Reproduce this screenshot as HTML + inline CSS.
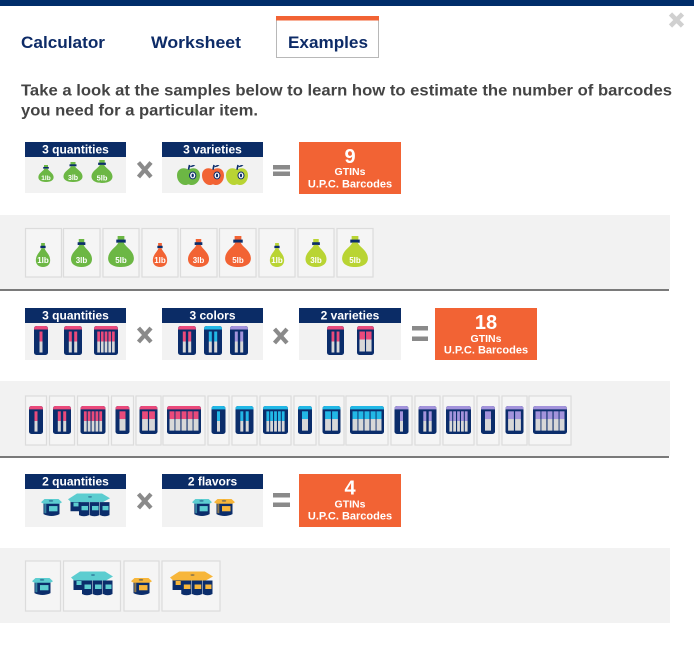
<!DOCTYPE html>
<html>
<head>
<meta charset="utf-8">
<style>
  html,body{margin:0;padding:0;background:#fff;}
  body{width:694px;height:649px;overflow:hidden;position:relative;}
  svg{position:absolute;left:0;top:0;display:block;}
  text{font-family:"Liberation Sans",Arial,sans-serif;font-weight:bold;}
</style>
</head>
<body>
<svg width="694" height="649" viewBox="0 0 694 649" xmlns="http://www.w3.org/2000/svg">
  <defs>
    <symbol id="bag" viewBox="0 0 20 26" preserveAspectRatio="none">
      <rect x="7.5" y="0" width="5" height="4" fill="currentColor"/>
      <rect x="6.5" y="3" width="7" height="2.6" fill="#0b2d6b"/>
      <path d="M8,5.5 C7,9 1,12 0.5,18 C0,23 4,26 10,26 C16,26 20,23 19.5,18 C19,12 13,9 12,5.5 Z" fill="currentColor"/>
    </symbol>
    <symbol id="apple" viewBox="0 0 22 22" preserveAspectRatio="none">
      <path d="M11,6 C7,3 0,4 0,12 C0,18 4,22 8,22 C9.5,22 10,21.3 11,21.3 C12,21.3 12.5,22 14,22 C18,22 22,18 22,12 C22,4 15,3 11,6 Z" fill="currentColor"/>
      <path d="M11,6 L12,1" stroke="#0b2d6b" stroke-width="1.6"/>
      <path d="M12,3 Q15,0 17.5,1.5 Q14.5,4 12,3Z" fill="#0b2d6b"/>
      <ellipse cx="15" cy="12" rx="3" ry="3.6" fill="#fff" stroke="#0b2d6b" stroke-width="1"/>
      <ellipse cx="15" cy="12" rx="1.1" ry="1.9" fill="#0b2d6b"/>
    </symbol>
    <!-- bottle packs -->
    <symbol id="thin1" viewBox="0 0 14 29" preserveAspectRatio="none">
      <rect width="14" height="29" rx="2.5" fill="#0b2d6b"/>
      <path d="M0,3 Q0,0 3,0 H11 Q14,0 14,3 V3.5 H0Z" fill="currentColor"/>
      <rect x="5.5" y="5.5" width="3" height="10" fill="currentColor"/>
      <rect x="5.5" y="15.5" width="3" height="11" fill="#d8d8d8"/>
    </symbol>
    <symbol id="thin2" viewBox="0 0 18 29" preserveAspectRatio="none">
      <rect width="18" height="29" rx="2.5" fill="#0b2d6b"/>
      <path d="M0,3 Q0,0 3,0 H15 Q18,0 18,3 V3.5 H0Z" fill="currentColor"/>
      <rect x="4.8" y="5.5" width="3" height="10" fill="currentColor"/>
      <rect x="4.8" y="15.5" width="3" height="11" fill="#d8d8d8"/>
      <rect x="10.2" y="5.5" width="3" height="10" fill="currentColor"/>
      <rect x="10.2" y="15.5" width="3" height="11" fill="#d8d8d8"/>
    </symbol>
    <symbol id="thin5" viewBox="0 0 25 29" preserveAspectRatio="none">
      <rect width="25" height="29" rx="2.5" fill="#0b2d6b"/>
      <path d="M0,3 Q0,0 3,0 H22 Q25,0 25,3 V3.5 H0Z" fill="currentColor"/>
      <rect x="3.4" y="5.5" width="2.8" height="10" fill="currentColor"/><rect x="3.4" y="15.5" width="2.8" height="11" fill="#d8d8d8"/>
      <rect x="7.2" y="5.5" width="2.8" height="10" fill="currentColor"/><rect x="7.2" y="15.5" width="2.8" height="11" fill="#d8d8d8"/>
      <rect x="11.1" y="5.5" width="2.8" height="10" fill="currentColor"/><rect x="11.1" y="15.5" width="2.8" height="11" fill="#d8d8d8"/>
      <rect x="15" y="5.5" width="2.8" height="10" fill="currentColor"/><rect x="15" y="15.5" width="2.8" height="11" fill="#d8d8d8"/>
      <rect x="18.8" y="5.5" width="2.8" height="10" fill="currentColor"/><rect x="18.8" y="15.5" width="2.8" height="11" fill="#d8d8d8"/>
    </symbol>
    <symbol id="thick1" viewBox="0 0 14 29" preserveAspectRatio="none">
      <rect width="14" height="29" rx="2.5" fill="#0b2d6b"/>
      <path d="M0,3 Q0,0 3,0 H11 Q14,0 14,3 V3.5 H0Z" fill="currentColor"/>
      <rect x="4" y="5.5" width="6" height="8" fill="currentColor"/>
      <rect x="4" y="13.5" width="6" height="12" fill="#d8d8d8"/>
    </symbol>
    <symbol id="thick2" viewBox="0 0 18 29" preserveAspectRatio="none">
      <rect width="18" height="29" rx="2.5" fill="#0b2d6b"/>
      <path d="M0,3 Q0,0 3,0 H15 Q18,0 18,3 V3.5 H0Z" fill="currentColor"/>
      <rect x="2.6" y="5.5" width="5.8" height="8" fill="currentColor"/><rect x="2.6" y="13.5" width="5.8" height="12" fill="#d8d8d8"/>
      <rect x="9.6" y="5.5" width="5.8" height="8" fill="currentColor"/><rect x="9.6" y="13.5" width="5.8" height="12" fill="#d8d8d8"/>
    </symbol>
    <symbol id="thick5" viewBox="0 0 34 29" preserveAspectRatio="none">
      <rect width="34" height="29" rx="2.5" fill="#0b2d6b"/>
      <path d="M0,3 Q0,0 3,0 H31 Q34,0 34,3 V3.5 H0Z" fill="currentColor"/>
      <rect x="2.5" y="5.5" width="5" height="8" fill="currentColor"/><rect x="2.5" y="13.5" width="5" height="12" fill="#d8d8d8"/>
      <rect x="8.4" y="5.5" width="5" height="8" fill="currentColor"/><rect x="8.4" y="13.5" width="5" height="12" fill="#d8d8d8"/>
      <rect x="14.5" y="5.5" width="5" height="8" fill="currentColor"/><rect x="14.5" y="13.5" width="5" height="12" fill="#d8d8d8"/>
      <rect x="20.6" y="5.5" width="5" height="8" fill="currentColor"/><rect x="20.6" y="13.5" width="5" height="12" fill="#d8d8d8"/>
      <rect x="26.5" y="5.5" width="5" height="8" fill="currentColor"/><rect x="26.5" y="13.5" width="5" height="12" fill="#d8d8d8"/>
    </symbol>
    <!-- yogurt cups -->
    <symbol id="cup" viewBox="0 0 21 20" preserveAspectRatio="none">
      <path d="M2.5,5 H18.5 V17 Q10.5,21 2.5,17Z" fill="#0b2d6b"/>
      <rect x="3.3" y="6" width="2" height="10" fill="currentColor" opacity=".55"/>
      <rect x="8" y="8.5" width="8.5" height="5.5" fill="currentColor"/>
      <path d="M0,4.5 L3.5,1 H17.5 L21,4.5 L18.5,6 H2.5Z" fill="currentColor"/>
      <ellipse cx="10" cy="3" rx="2.2" ry="1" fill="#0b2d6b" opacity=".45"/>
    </symbol>
    <symbol id="pack" viewBox="0 0 42 25" preserveAspectRatio="none">
      <rect x="2.5" y="6" width="10" height="13" fill="#0b2d6b"/>
      <rect x="5.5" y="10" width="5" height="4" fill="currentColor"/>
      <path d="M0,6.5 L9,0.5 H34 L42,5.5 L35,9.5 H3Z" fill="currentColor"/>
      <ellipse cx="22" cy="4" rx="2" ry="0.9" fill="#0b2d6b" opacity=".45"/>
      <path d="M11,9.5 H21 V23 Q16,25.5 11,23Z" fill="#0b2d6b"/>
      <path d="M21.5,9.5 H31.5 V23 Q26.5,25.5 21.5,23Z" fill="#0b2d6b"/>
      <path d="M32,9.5 H41.5 V23 Q36.8,25.5 32,23Z" fill="#0b2d6b"/>
      <rect x="13.5" y="13.5" width="6.5" height="4.5" fill="currentColor"/>
      <rect x="24" y="13.5" width="6.5" height="4.5" fill="currentColor"/>
      <rect x="34.5" y="13.5" width="6" height="4.5" fill="currentColor"/>
    </symbol>
  </defs>

  <!-- top bar -->
  <rect x="0" y="0" width="694" height="6" fill="#002d6a"/>
  <!-- close X -->
  <path d="M670.5,14 L682.5,26 M682.5,14 L670.5,26" stroke="#d0d0d0" stroke-width="4.6"/>

  <!-- tabs -->
  <rect x="276.5" y="16.5" width="102" height="41" fill="#fff" stroke="#b8b8b8" stroke-width="1"/>
  <rect x="276" y="16" width="103" height="4.5" fill="#f26334"/>
  <text x="21" y="48" font-size="17" fill="#0d2b67" textLength="84" lengthAdjust="spacingAndGlyphs">Calculator</text>
  <text x="151" y="48" font-size="17" fill="#0d2b67" textLength="90" lengthAdjust="spacingAndGlyphs">Worksheet</text>
  <text x="288" y="48" font-size="17" fill="#0d2b67" textLength="80" lengthAdjust="spacingAndGlyphs">Examples</text>

  <!-- intro -->
  <text x="21" y="95.5" font-size="16" fill="#444" textLength="651" lengthAdjust="spacingAndGlyphs">Take a look at the samples below to learn how to estimate the number of barcodes</text>
  <text x="21" y="115.5" font-size="16" fill="#444" textLength="237" lengthAdjust="spacingAndGlyphs">you need for a particular item.</text>

  <!-- ========== SECTION 1 ========== -->
  <rect x="25" y="142" width="101" height="51" fill="#f2f2f2"/>
  <rect x="25" y="142" width="101" height="15" fill="#0b2c66"/>
  <text x="75.5" y="153.5" font-size="12" fill="#fff" text-anchor="middle">3 quantities</text>
  <use href="#bag" x="38" y="165" width="16" height="17" style="color:#6cb744"/>
  <use href="#bag" x="63" y="162" width="20" height="20" style="color:#6cb744"/>
  <use href="#bag" x="91" y="160" width="22" height="23" style="color:#6cb744"/>
  <text x="46" y="180" font-size="6.5" fill="#fff" text-anchor="middle">1lb</text>
  <text x="73" y="180" font-size="7" fill="#fff" text-anchor="middle">3lb</text>
  <text x="102" y="180.5" font-size="7.5" fill="#fff" text-anchor="middle">5lb</text>

  <path d="M138.5,162.5 L151,177 M151,162.5 L138.5,177" stroke="#8a8a8a" stroke-width="4.2"/>

  <rect x="162" y="142" width="101" height="51" fill="#f2f2f2"/>
  <rect x="162" y="142" width="101" height="15" fill="#0b2c66"/>
  <text x="212.5" y="153.5" font-size="12" fill="#fff" text-anchor="middle">3 varieties</text>
  <use href="#apple" x="177" y="164" width="23" height="21" style="color:#6cb744"/>
  <use href="#apple" x="202" y="164" width="22" height="21" style="color:#f26334"/>
  <use href="#apple" x="226" y="164" width="22" height="21" style="color:#b9d433"/>

  <rect x="273" y="165" width="17" height="4.5" fill="#8a8a8a"/>
  <rect x="273" y="171.5" width="17" height="4.5" fill="#8a8a8a"/>

  <rect x="299" y="142" width="102" height="52" fill="#f26334"/>
  <text x="350" y="163" font-size="20" fill="#fff" text-anchor="middle">9</text>
  <text x="350" y="175" font-size="10.5" fill="#fff" text-anchor="middle">GTINs</text>
  <text x="350" y="187.5" font-size="11" fill="#fff" text-anchor="middle">U.P.C. Barcodes</text>

  <!-- band 1 -->
  <rect x="0" y="215" width="670" height="74" fill="#f2f2f2"/>
  <rect x="0" y="289" width="669" height="2" fill="#7a7a7a"/>
  <g fill="#f5f5f5" stroke="#dcdcdc" stroke-width="1.2">
    <rect x="25.5" y="228.5" width="36" height="48.5"/>
    <rect x="63.5" y="228.5" width="36.5" height="48.5"/>
    <rect x="103" y="228.5" width="36" height="48.5"/>
    <rect x="142" y="228.5" width="36" height="48.5"/>
    <rect x="180.5" y="228.5" width="36.5" height="48.5"/>
    <rect x="219.5" y="228.5" width="36.5" height="48.5"/>
    <rect x="259" y="228.5" width="36" height="48.5"/>
    <rect x="298" y="228.5" width="36" height="48.5"/>
    <rect x="337" y="228.5" width="36" height="48.5"/>
  </g>
  <use href="#bag" x="35.5" y="243" width="15" height="24" style="color:#6cb744"/>
  <use href="#bag" x="70.5" y="239" width="22" height="28" style="color:#6cb744"/>
  <use href="#bag" x="107.5" y="236" width="27" height="31" style="color:#6cb744"/>
  <use href="#bag" x="152.5" y="243" width="15" height="24" style="color:#f26334"/>
  <use href="#bag" x="187.5" y="239" width="22" height="28" style="color:#f26334"/>
  <use href="#bag" x="224.5" y="236" width="27" height="31" style="color:#f26334"/>
  <use href="#bag" x="269.5" y="243" width="15" height="24" style="color:#b9d433"/>
  <use href="#bag" x="305" y="239" width="22" height="28" style="color:#b9d433"/>
  <use href="#bag" x="341.5" y="236" width="27" height="31" style="color:#b9d433"/>
  <g font-size="8" fill="#fff" text-anchor="middle">
    <text x="43" y="263">1lb</text>
    <text x="81.5" y="263">3lb</text>
    <text x="121" y="263">5lb</text>
    <text x="160" y="263">1lb</text>
    <text x="198.5" y="263">3lb</text>
    <text x="238" y="263">5lb</text>
    <text x="277" y="263">1lb</text>
    <text x="316" y="263">3lb</text>
    <text x="355" y="263">5lb</text>
  </g>

  <!-- ========== SECTION 2 ========== -->
  <rect x="25" y="308" width="101" height="52" fill="#f2f2f2"/>
  <rect x="25" y="308" width="101" height="15" fill="#0b2c66"/>
  <text x="75.5" y="319.5" font-size="12" fill="#fff" text-anchor="middle">3 quantities</text>
  <use href="#thin1" x="34" y="326" width="14" height="29" style="color:#ea4a7b"/>
  <use href="#thin2" x="64" y="326" width="18" height="29" style="color:#ea4a7b"/>
  <use href="#thin5" x="94" y="326" width="24" height="29" style="color:#ea4a7b"/>

  <path d="M138.5,328 L151,342 M151,328 L138.5,342" stroke="#8a8a8a" stroke-width="4.2"/>

  <rect x="162" y="308" width="101" height="52" fill="#f2f2f2"/>
  <rect x="162" y="308" width="101" height="15" fill="#0b2c66"/>
  <text x="212.5" y="319.5" font-size="12" fill="#fff" text-anchor="middle">3 colors</text>
  <use href="#thin2" x="178" y="326" width="18" height="29" style="color:#ea4a7b"/>
  <use href="#thin2" x="204" y="326" width="18" height="29" style="color:#22b8e6"/>
  <use href="#thin2" x="230" y="326" width="18" height="29" style="color:#a393db"/>

  <path d="M274.5,329 L287,343 M287,329 L274.5,343" stroke="#8a8a8a" stroke-width="4.2"/>

  <rect x="299" y="308" width="102" height="52" fill="#f2f2f2"/>
  <rect x="299" y="308" width="102" height="15" fill="#0b2c66"/>
  <text x="350" y="319.5" font-size="12" fill="#fff" text-anchor="middle">2 varieties</text>
  <use href="#thin2" x="327" y="326" width="17" height="29" style="color:#ea4a7b"/>
  <use href="#thick2" x="357" y="326" width="17" height="29" style="color:#ea4a7b"/>

  <rect x="412" y="326" width="16" height="4.5" fill="#8a8a8a"/>
  <rect x="412" y="336.5" width="16" height="4.5" fill="#8a8a8a"/>

  <rect x="435" y="308" width="102" height="52" fill="#f26334"/>
  <text x="486" y="329" font-size="20" fill="#fff" text-anchor="middle">18</text>
  <text x="486" y="342" font-size="10.5" fill="#fff" text-anchor="middle">GTINs</text>
  <text x="486" y="353.5" font-size="11" fill="#fff" text-anchor="middle">U.P.C. Barcodes</text>

  <!-- band 2 -->
  <rect x="0" y="381" width="670" height="75" fill="#f2f2f2"/>
  <rect x="0" y="456" width="669" height="2" fill="#7a7a7a"/>
  <g fill="#f5f5f5" stroke="#dcdcdc" stroke-width="1.2">
    <rect x="25.5" y="396" width="21" height="49"/>
    <rect x="49.5" y="396" width="25" height="49"/>
    <rect x="77.5" y="396" width="31" height="49"/>
    <rect x="111.5" y="396" width="22" height="49"/>
    <rect x="136" y="396" width="25" height="49"/>
    <rect x="163" y="396" width="42" height="49"/>

    <rect x="208" y="396" width="21" height="49"/>
    <rect x="232" y="396" width="25" height="49"/>
    <rect x="260" y="396" width="31" height="49"/>
    <rect x="294" y="396" width="22" height="49"/>
    <rect x="319" y="396" width="25" height="49"/>
    <rect x="346" y="396" width="42" height="49"/>

    <rect x="391" y="396" width="21" height="49"/>
    <rect x="415" y="396" width="25" height="49"/>
    <rect x="443" y="396" width="31" height="49"/>
    <rect x="477" y="396" width="22" height="49"/>
    <rect x="502" y="396" width="25" height="49"/>
    <rect x="529" y="396" width="42" height="49"/>
  </g>
  <g style="color:#ea4a7b">
    <use href="#thin1" x="29" y="406" width="14" height="28"/>
    <use href="#thin2" x="53" y="406" width="18" height="28"/>
    <use href="#thin5" x="80.5" y="406" width="25" height="28"/>
    <use href="#thick1" x="115.5" y="406" width="14" height="28"/>
    <use href="#thick2" x="139.5" y="406" width="18" height="28"/>
    <use href="#thick5" x="167" y="406" width="34" height="28"/>
  </g>
  <g style="color:#22b8e6">
    <use href="#thin1" x="211.5" y="406" width="14" height="28"/>
    <use href="#thin2" x="235.5" y="406" width="18" height="28"/>
    <use href="#thin5" x="263" y="406" width="25" height="28"/>
    <use href="#thick1" x="298" y="406" width="14" height="28"/>
    <use href="#thick2" x="322.5" y="406" width="18" height="28"/>
    <use href="#thick5" x="350" y="406" width="34" height="28"/>
  </g>
  <g style="color:#a393db">
    <use href="#thin1" x="394.5" y="406" width="14" height="28"/>
    <use href="#thin2" x="418.5" y="406" width="18" height="28"/>
    <use href="#thin5" x="446" y="406" width="25" height="28"/>
    <use href="#thick1" x="481" y="406" width="14" height="28"/>
    <use href="#thick2" x="505.5" y="406" width="18" height="28"/>
    <use href="#thick5" x="533" y="406" width="34" height="28"/>
  </g>

  <!-- ========== SECTION 3 ========== -->
  <rect x="25" y="474" width="101" height="53" fill="#f2f2f2"/>
  <rect x="25" y="474" width="101" height="15" fill="#0b2c66"/>
  <text x="75.5" y="485.5" font-size="12" fill="#fff" text-anchor="middle">2 quantities</text>
  <use href="#cup" x="41" y="498" width="21" height="19" style="color:#5ccdd0"/>
  <use href="#pack" x="68" y="493" width="42" height="24" style="color:#5ccdd0"/>

  <path d="M138.5,494 L151,508 M151,494 L138.5,508" stroke="#8a8a8a" stroke-width="4.2"/>

  <rect x="162" y="474" width="101" height="53" fill="#f2f2f2"/>
  <rect x="162" y="474" width="101" height="15" fill="#0b2c66"/>
  <text x="212.5" y="485.5" font-size="12" fill="#fff" text-anchor="middle">2 flavors</text>
  <use href="#cup" x="192" y="498" width="20" height="19" style="color:#5ccdd0"/>
  <use href="#cup" x="214" y="498" width="21" height="19" style="color:#f7b63a"/>

  <rect x="273" y="493" width="17" height="4.5" fill="#8a8a8a"/>
  <rect x="273" y="502.5" width="17" height="4.5" fill="#8a8a8a"/>

  <rect x="299" y="474" width="102" height="53" fill="#f26334"/>
  <text x="350" y="494.5" font-size="20" fill="#fff" text-anchor="middle">4</text>
  <text x="350" y="507.5" font-size="10.5" fill="#fff" text-anchor="middle">GTINs</text>
  <text x="350" y="519.5" font-size="11" fill="#fff" text-anchor="middle">U.P.C. Barcodes</text>

  <!-- band 3 -->
  <rect x="0" y="548" width="670" height="75" fill="#f2f2f2"/>
  <g fill="#f5f5f5" stroke="#dcdcdc" stroke-width="1.2">
    <rect x="25.5" y="561" width="35" height="50"/>
    <rect x="63.5" y="561" width="57" height="50"/>
    <rect x="124" y="561" width="35" height="50"/>
    <rect x="162" y="561" width="58" height="50"/>
  </g>
  <use href="#cup" x="32" y="577" width="21" height="19" style="color:#5ccdd0"/>
  <use href="#pack" x="71" y="571" width="42" height="25" style="color:#5ccdd0"/>
  <use href="#cup" x="131" y="577" width="21" height="19" style="color:#f7b63a"/>
  <use href="#pack" x="170" y="571" width="43" height="25" style="color:#f7b63a"/>
</svg>
</body>
</html>
